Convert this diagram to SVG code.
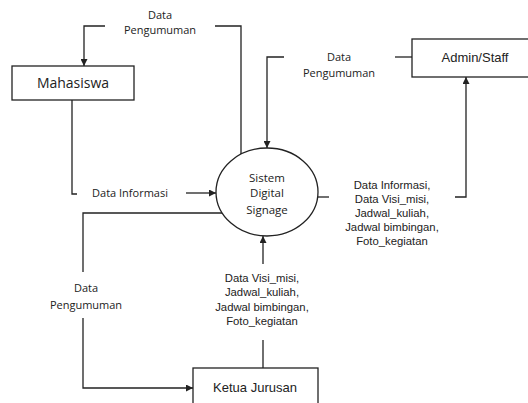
<svg xmlns="http://www.w3.org/2000/svg" width="528" height="403" viewBox="0 0 528 403">
<style>
.ln{fill:none;stroke:#222;stroke-width:1.3}
.arr{fill:none;stroke:#222;stroke-width:1.3;marker-end:url(#ah)}
.box{fill:#fff;stroke:#222;stroke-width:1.3}
.c{font-family:"Open Sans","Noto Sans",sans-serif;fill:#222;text-anchor:middle}
.a{font-family:"Liberation Sans",Arial,sans-serif;fill:#222;text-anchor:middle}
</style>
<defs>
<marker id="ah" viewBox="0 0 10 10" refX="10" refY="5" markerWidth="8" markerHeight="7" markerUnits="userSpaceOnUse" orient="auto">
<path d="M0,0 L10,5 L0,10 Z" fill="#222"/>
</marker>
</defs>
<rect width="528" height="403" fill="#fff"/>
<g id="connectors">
<path class="arr" d="M105,26 H84 V66"/>
<path class="ln" d="M215,26 H241 V154"/>
<path class="ln" d="M72,100 V194 H77"/>
<path class="arr" d="M186,193 H216"/>
<path class="arr" d="M284,57 H267 V148"/>
<path class="ln" d="M395,57 H412"/>
<path class="ln" d="M318,197 H329"/>
<path class="arr" d="M455,197 H466 V77"/>
<path class="ln" d="M222,213 H83 V272"/>
<path class="arr" d="M83,318 V388 H193"/>
<path class="arr" d="M263,264 V236"/>
<path class="ln" d="M263,340 V368"/>
</g>
<g id="labels">
<text class="c" font-size="11" x="160" y="19">Data</text>
<text class="c" font-size="11" x="160" y="34">Pengumuman</text>
<text class="c" font-size="11" x="339" y="61">Data</text>
<text class="c" font-size="11" x="339" y="77">Pengumuman</text>
<text class="c" font-size="11" x="130" y="197">Data Informasi</text>
<text class="c" font-size="11" x="86" y="292">Data</text>
<text class="c" font-size="11" x="86" y="309">Pengumuman</text>
<text class="a" font-size="11.3" x="392" y="189">Data Informasi,</text>
<text class="a" font-size="11.3" x="392" y="203">Data Visi_misi,</text>
<text class="a" font-size="11.3" x="392" y="217">Jadwal_kuliah,</text>
<text class="a" font-size="11.3" x="392" y="231">Jadwal bimbingan,</text>
<text class="a" font-size="11.3" x="392" y="245">Foto_kegiatan</text>
<text class="a" font-size="11.3" x="262" y="282">Data Visi_misi,</text>
<text class="a" font-size="11.3" x="262" y="296">Jadwal_kuliah,</text>
<text class="a" font-size="11.3" x="262" y="311">Jadwal bimbingan,</text>
<text class="a" font-size="11.3" x="262" y="325">Foto_kegiatan</text>
</g>
<g id="mahasiswa">
<rect class="box" x="12" y="66" width="122" height="34"/>
<text class="c" font-size="14" x="73" y="88">Mahasiswa</text>
</g>
<g id="admin">
<rect class="box" x="412" y="39" width="130" height="38"/>
<text class="a" font-size="13" x="475" y="62">Admin/Staff</text>
</g>
<g id="sistem">
<ellipse class="box" cx="267" cy="192" rx="51" ry="44"/>
<text class="c" font-size="11.5" x="267" y="182">Sistem</text>
<text class="c" font-size="11.5" x="267" y="197">Digital</text>
<text class="c" font-size="11.5" x="267" y="214">Signage</text>
</g>
<g id="ketua">
<rect class="box" x="193" y="368" width="125" height="40"/>
<text class="a" font-size="13" x="255" y="392">Ketua Jurusan</text>
</g>
</svg>
